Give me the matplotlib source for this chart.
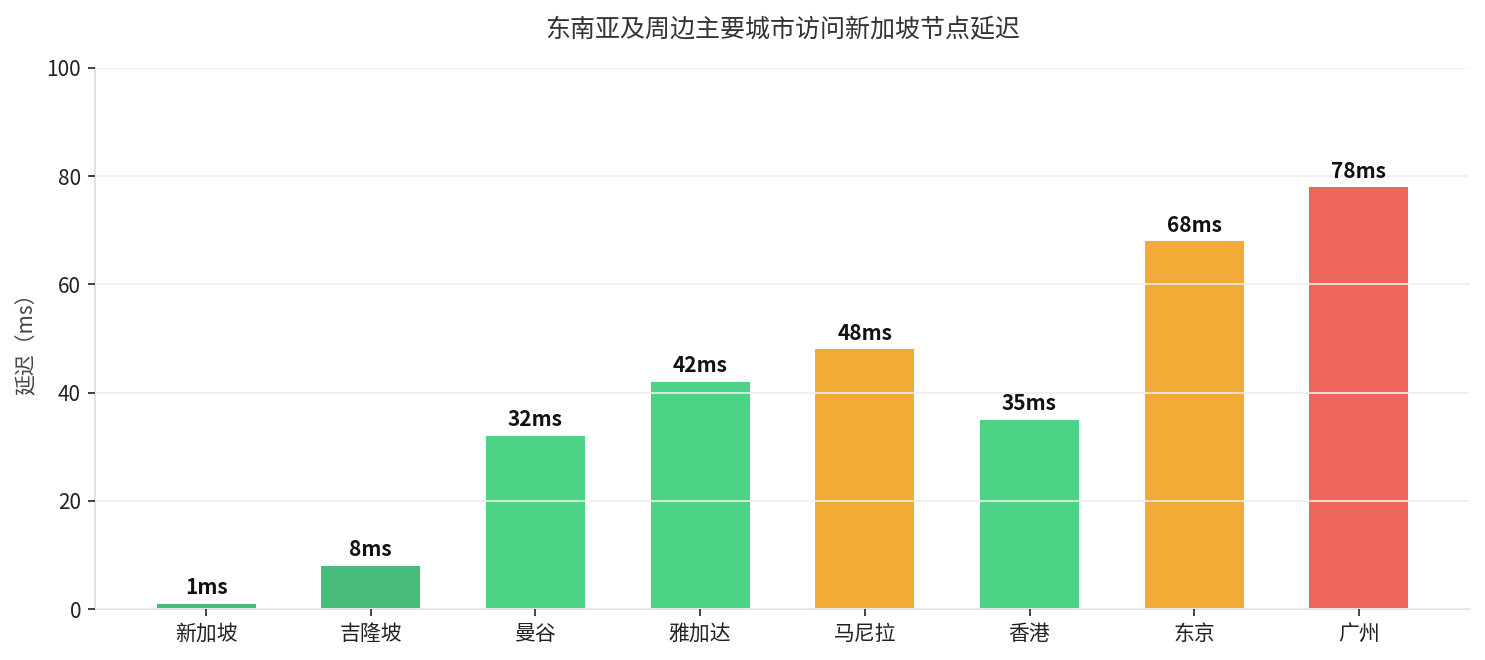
import matplotlib
matplotlib.use("Agg")
import matplotlib.pyplot as plt

plt.rcParams['font.family'] = ['Noto Sans CJK SC', 'DejaVu Sans']

cities = ["新加坡", "吉隆坡", "曼谷", "雅加达", "马尼拉", "香港", "东京", "广州"]
latency = [1, 8, 32, 42, 48, 35, 68, 78]
colors = ["#48bb78", "#48bb78", "#4cd386", "#4cd386", "#f2ab36", "#4cd386", "#f2ab36", "#ec665b"]
yticks = [0, 20, 40, 60, 80, 100]

fig = plt.figure(figsize=(14.85, 6.6), dpi=100)
ax = fig.add_axes([95/1485, 1 - 609/660, 1375/1485, (609-68)/660])

x = list(range(len(cities)))
ax.bar(x, latency, width=0.6, color=colors, zorder=1)
for xi, v in zip(x, latency):
    ax.text(xi, v + 1.0, f"{v}ms", ha="center", va="bottom", fontsize=15,
            fontweight="bold", color="#111111", zorder=3)

ax.set_xlim(-0.675, 7.675)
ax.set_ylim(0, 100)
ax.set_yticks(yticks)
ax.set_xticks(x)
ax.set_xticklabels(cities)
ax.tick_params(axis="both", labelsize=15, colors="#222222", length=5, width=1.2, pad=5)
ax.yaxis.grid(True, color="#eeeeee", linewidth=1.2, zorder=2)
ax.set_axisbelow(False)
for s in ["top", "right"]:
    ax.spines[s].set_visible(False)
for s in ["left", "bottom"]:
    ax.spines[s].set_color("#dddddd")
    ax.spines[s].set_linewidth(1.2)

ax.set_ylabel("延迟（ms）", fontsize=15, color="#444444", labelpad=6)
ax.set_title("东南亚及周边主要城市访问新加坡节点延迟", fontsize=18, color="#333333", pad=22)

fig.savefig("out.png", dpi=100)
